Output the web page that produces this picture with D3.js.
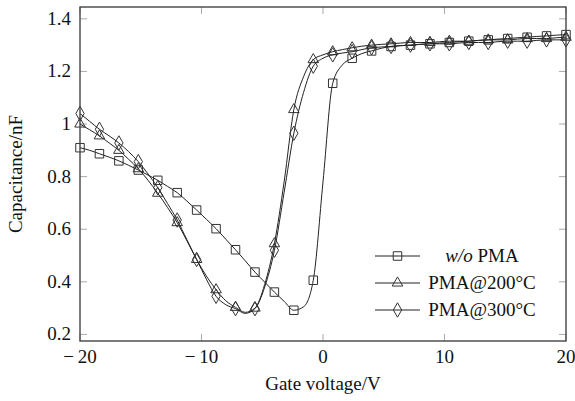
<!DOCTYPE html>
<html>
<head>
  <meta charset="utf-8"><script src="https://d3js.org/d3.v7.min.js"></script>
</head>
<body style="margin: 0; background: white">
  <svg id="mychart" width="575" height="401" style="background: white"></svg>
<script>
  // gate voltage (V), every other point carries a marker
  voltage = [-20, -19.2, -18.4, -17.6, -16.8, -16, -15.2, -14.4, -13.6, -12.8, -12, -11.2, -10.4, -9.6, -8.8, -8,
    -7.2, -6.4, -5.6, -4.8, -4, -3.2, -2.4, -1.6, -0.8, 0, 0.8, 1.6, 2.4, 3.2, 4, 4.8, 5.6, 6.4, 7.2, 8, 8.8,
    9.6, 10.4, 11.2, 12, 12.8, 13.6, 14.4, 15.2, 16, 16.8, 17.6, 18.4, 19.2, 20]

  // capacitance (nF)
  noPMA = [0.91, 0.90, 0.887, 0.874, 0.86, 0.843, 0.825, 0.806, 0.786, 0.763, 0.739, 0.707, 0.673, 0.638, 0.602, 0.562,
    0.522, 0.48, 0.437, 0.399, 0.361, 0.326, 0.292, 0.305, 0.406, 0.78, 1.155, 1.225, 1.25, 1.268, 1.278, 1.288, 1.295,
    1.298, 1.30, 1.303, 1.305, 1.308, 1.31, 1.313, 1.315, 1.318, 1.32, 1.323, 1.325, 1.328, 1.33, 1.333, 1.335, 1.338, 1.34]
  pma200 = [1.00, 0.978, 0.955, 0.928, 0.90, 0.866, 0.83, 0.786, 0.737, 0.683, 0.625, 0.556, 0.485, 0.422, 0.37, 0.328,
    0.303, 0.284, 0.30, 0.39, 0.545, 0.78, 1.055, 1.18, 1.245, 1.263, 1.275, 1.283, 1.29, 1.296, 1.30, 1.303, 1.305,
    1.308, 1.31, 1.31, 1.31, 1.313, 1.315, 1.315, 1.315, 1.318, 1.32, 1.32, 1.32, 1.323, 1.325, 1.325, 1.325, 1.328, 1.33]
  pma300 = [1.04, 1.01, 0.98, 0.955, 0.928, 0.895, 0.857, 0.81, 0.758, 0.698, 0.635, 0.56, 0.485, 0.41, 0.345, 0.313,
    0.298, 0.28, 0.298, 0.38, 0.52, 0.74, 0.965, 1.12, 1.22, 1.25, 1.263, 1.27, 1.275, 1.283, 1.29, 1.293, 1.295,
    1.298, 1.30, 1.303, 1.305, 1.305, 1.305, 1.308, 1.31, 1.31, 1.31, 1.313, 1.315, 1.315, 1.315, 1.318, 1.32, 1.32, 1.32]

  xTicks = [-20, -10, 0, 10, 20]
  yTicks = [0.2, 0.4, 0.6, 0.8, 1, 1.2, 1.4]
  seriesNames = ["PMA", "PMA@200°C", "PMA@300°C"]

  width = 575
  height = 401
  margin = ({top: 7, right: 9, bottom: 60, left: 80})
  font = "Liberation Serif"

  x = d3.scaleLinear()
    .domain([-20, 20])
    .range([margin.left, width - margin.right])

  y = d3.scaleLinear()
    .domain([0.175, 1.445])
    .range([height - margin.bottom, margin.top])

  svg = d3.select("#mychart")

  // grey inside ticks on all four sides
  tickLen = 7
  ticks = svg.append("g").attr("stroke", "#aaa").attr("stroke-width", 1)
  xTicks.forEach(t => {
    ticks.append("line").attr("x1", x(t)).attr("x2", x(t)).attr("y1", y.range()[0]).attr("y2", y.range()[0] - tickLen)
    ticks.append("line").attr("x1", x(t)).attr("x2", x(t)).attr("y1", y.range()[1]).attr("y2", y.range()[1] + tickLen)
  })
  yTicks.forEach(t => {
    ticks.append("line").attr("y1", y(t)).attr("y2", y(t)).attr("x1", x.range()[0]).attr("x2", x.range()[0] + tickLen)
    ticks.append("line").attr("y1", y(t)).attr("y2", y(t)).attr("x1", x.range()[1]).attr("x2", x.range()[1] - tickLen)
  })

  // tick labels
  xTicks.forEach(t => {
    svg.append("text").attr("x", x(t)).attr("y", y.range()[0] + 22)
      .attr("font-family", font).attr("font-size", 19).attr("text-anchor", "middle").attr("fill", "#111")
      .text(t < 0 ? "\u2212\u2009" + Math.abs(t) : t)
  })
  yTicks.forEach(t => {
    svg.append("text").attr("x", margin.left - 9).attr("y", y(t) + 6)
      .attr("font-family", font).attr("font-size", 19).attr("text-anchor", "end").attr("fill", "#111")
      .text(t)
  })

  // axis titles
  svg.append("text").attr("x", (x.range()[0] + x.range()[1]) / 2).attr("y", 390)
    .attr("font-family", font).attr("text-anchor", "middle").attr("font-size", 19).attr("fill", "#111")
    .text("Gate voltage/V")
  svg.append("text").attr("transform", `translate(22,${(y.range()[0] + y.range()[1]) / 2}) rotate(-90)`)
    .attr("font-family", font).attr("text-anchor", "middle").attr("font-size", 19).attr("fill", "#111")
    .text("Capacitance/nF")

  line = d3.line().curve(d3.curveMonotoneX)
    .x(d => x(d[0]))
    .y(d => y(d[1]))

  symbols = [
    d3.symbol().type(d3.symbolSquare).size(72),
    d3.symbol().type(d3.symbolTriangle).size(48),
    d3.symbol().type(d3.symbolDiamond).size(60)
  ]
  series = [noPMA, pma200, pma300]

  plot = svg.append("g")
  series.forEach((vals, i) => {
    const pts = voltage.map((v, j) => [v, vals[j]])
    plot.append("path")
      .datum(pts)
      .attr("fill", "none")
      .attr("stroke", "#222")
      .attr("stroke-width", 1)
      .attr("d", line)
    plot.append("g").selectAll("path")
      .data(pts.filter((d, j) => j % 2 === 0))
      .join("path")
      .attr("transform", d => `translate(${x(d[0])},${y(d[1])})`)
      .attr("d", symbols[i])
      .attr("fill", "none")
      .attr("stroke", "#333")
      .attr("stroke-width", 1)
  })

  // frame
  svg.append("rect")
    .attr("x", x.range()[0]).attr("y", y.range()[1])
    .attr("width", x.range()[1] - x.range()[0])
    .attr("height", y.range()[0] - y.range()[1])
    .attr("fill", "none").attr("stroke", "#444").attr("stroke-width", 1.4)

  // legend
  seriesNames.forEach((name, i) => {
    const ly = 256 + i * 27
    svg.append("line").attr("x1", 375).attr("x2", 420).attr("y1", ly).attr("y2", ly)
      .attr("stroke", "#222").attr("stroke-width", 1)
    svg.append("path").attr("transform", `translate(397.5,${ly})`).attr("d", symbols[i])
      .attr("fill", "none").attr("stroke", "#333").attr("stroke-width", 1)
    const t = svg.append("text").attr("x", 482).attr("y", ly + 6)
      .attr("font-family", font).attr("font-size", 19).attr("text-anchor", "middle").attr("fill", "#111")
    if (i === 0) {
      t.append("tspan").attr("font-style", "italic").text("w/o")
      t.append("tspan").text(" " + name)
    } else t.text(name)
  })
</script>
</body>
</html>
